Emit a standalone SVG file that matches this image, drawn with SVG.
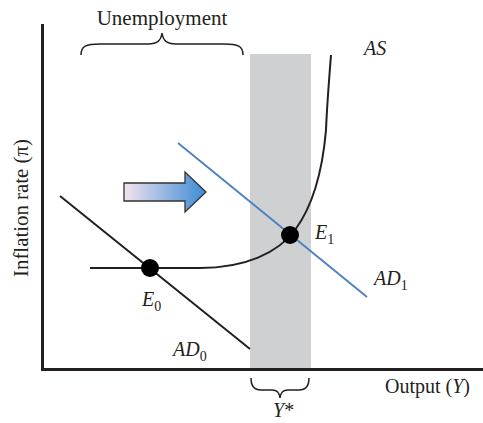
<svg xmlns="http://www.w3.org/2000/svg" width="483" height="423" viewBox="0 0 483 423">
  <style>
    text { font-family: "Liberation Serif", "Times New Roman", serif; fill: #231f20; }
    .it { font-style: italic; }
    .curve { fill: none; stroke: #231f20; stroke-width: 2; }
    .axis { fill: none; stroke: #231f20; stroke-width: 3; }
    .brace { fill: none; stroke: #231f20; stroke-width: 1.5; }
    .dot { fill: #000; }
  </style>
  <defs>
    <linearGradient id="arrowGrad" x1="0" y1="0" x2="1" y2="0">
      <stop offset="0" stop-color="#f3e3ee"/>
      <stop offset="1" stop-color="#3a8ad4"/>
    </linearGradient>
  </defs>
  <rect width="483" height="423" fill="#fff"/>

  <g id="full-employment-band">
    <rect x="250" y="54" width="61" height="316" fill="#cfd0d2"/>
  </g>

  <g id="axes">
    <path class="axis" d="M42.5,24 V369.5 H483"/>
    <text transform="translate(28,208) rotate(-90)" text-anchor="middle" font-size="20" textLength="138" lengthAdjust="spacingAndGlyphs">Inflation rate (π)</text>
    <text x="385" y="393" font-size="20">Output (<tspan class="it">Y</tspan>)</text>
  </g>

  <g id="connectors">
    <path id="AS" class="curve" d="M90,268 H200 C245,268 278,253 295,230 C315,203 323,165 326,130 C327,105 329,80 331,55"/>
    <path id="AD0" class="curve" d="M60,196 L250,349"/>
    <path id="AD1" fill="none" stroke="#4a7fc1" stroke-width="1.8" d="M178,143 L367,297"/>
  </g>

  <g id="shift-arrow">
    <path d="M124,183 H185 V172 L206,192 L185,212 V201 H124 Z" fill="url(#arrowGrad)" stroke="#333" stroke-width="1.3"/>
  </g>

  <g id="unemployment">
    <path class="brace" d="M81,55 C81,46 86,44 100,44 H148 C158,44 161,40 162,33 C163,40 166,44 176,44 H224 C238,44 243,46 243,55"/>
    <text x="162" y="25" text-anchor="middle" font-size="21">Unemployment</text>
  </g>

  <g id="ystar">
    <path class="brace" d="M251,378 C251,386 254,390 261,390 H272 C277,390 279,392 280,398 C281,392 283,390 288,390 H299 C306,390 309,386 309,378"/>
    <text x="273" y="417" font-size="20"><tspan class="it">Y</tspan>*</text>
  </g>

  <g id="E0">
    <circle class="dot" cx="150" cy="268" r="9"/>
    <text class="it" x="142" y="306" font-size="20">E<tspan font-style="normal" font-size="14" dy="5">0</tspan></text>
  </g>

  <g id="E1">
    <circle class="dot" cx="290" cy="235" r="9"/>
    <text class="it" x="315" y="239" font-size="20">E<tspan font-style="normal" font-size="14" dy="5">1</tspan></text>
  </g>

  <g id="label-AS">
    <text class="it" x="364" y="55" font-size="20">AS</text>
  </g>
  <g id="label-AD0">
    <text class="it" x="173" y="356" font-size="20">AD<tspan font-style="normal" font-size="14" dy="5">0</tspan></text>
  </g>
  <g id="label-AD1">
    <text class="it" x="374" y="285" font-size="20">AD<tspan font-style="normal" font-size="14" dy="5">1</tspan></text>
  </g>
</svg>
